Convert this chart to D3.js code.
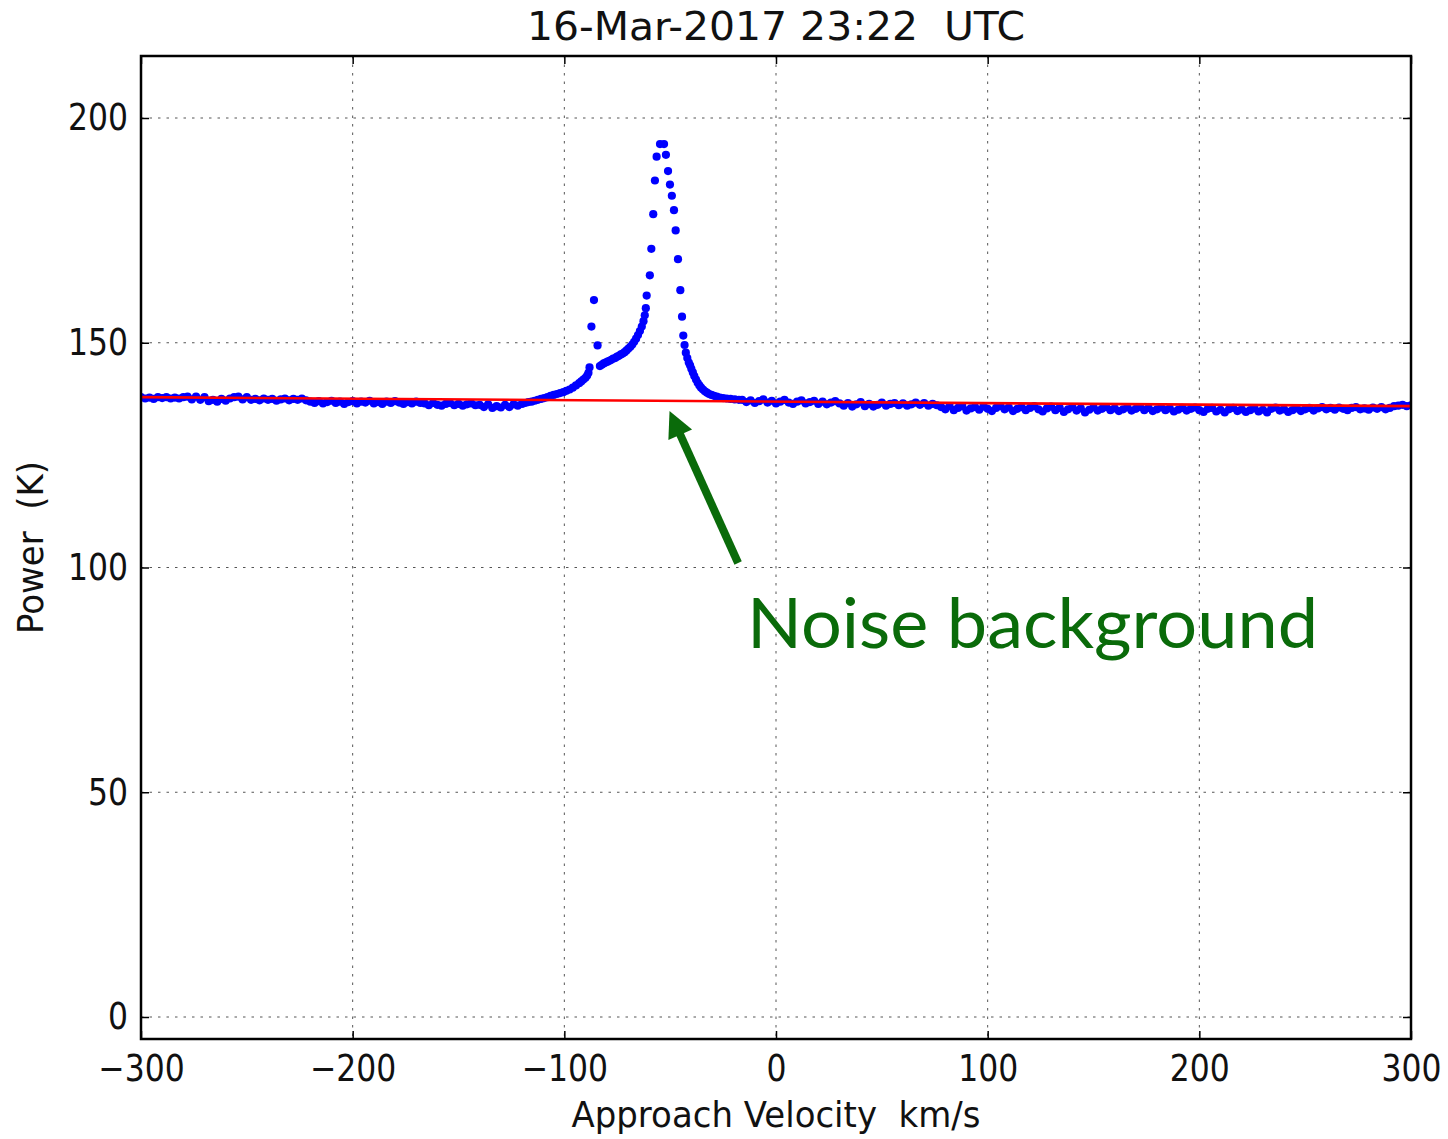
<!DOCTYPE html>
<html>
<head>
<meta charset="utf-8">
<script src="https://cdn.jsdelivr.net/npm/d3@7"></script>
<style>
  html, body { margin: 0; padding: 0; background: #ffffff; }
  svg { display: block; }
  text { white-space: pre; }
</style>
</head>
<body>
<svg id="chart" width="1448" height="1139"></svg>
<script>
// ---------------- DATA ----------------
const titleText = "16-Mar-2017 23:22  UTC";
const xLabelText = "Approach Velocity  km/s";
const yLabelText = "Power  (K)";
const xTickValues = [-300, -200, -100, 0, 100, 200, 300];
const yTickValues = [0, 50, 100, 150, 200];

// Measured spectrum: [velocity km/s, power K]
const baselineLeft = [
  [-300,137.9],[-298,137.6],[-296,137.8],[-294,137.5],[-292,137.9],[-290,137.7],[-288,137.9],[-286,137.6],[-284,137.8],[-282,137.6],
  [-280,137.9],[-278,138.0],[-276,137.4],[-274,138.0],[-272,137.3],[-270,137.9],[-268,137.0],[-266,137.3],[-264,136.9],[-262,137.5],
  [-260,137.1],[-258,137.6],[-256,137.9],[-254,138.0],[-252,137.4],[-250,137.9],[-248,137.3],
  [-246,137.5],[-244,137.2],[-242,137.6],[-240,137.3],[-238,137.5],[-236,137.1],[-234,137.4],[-232,137.6],[-230,137.2],[-228,137.5],
  [-226,137.3],[-224,137.6],[-222,137.2],
  [-220,136.9],[-218,136.6],[-216,137.0],[-214,136.5],[-212,136.8],[-210,137.1],[-208,136.6],[-206,136.9],[-204,136.4],[-202,136.8],
  [-200,137.0],[-198,136.5],[-196,136.9],[-194,136.7],[-192,137.1],[-190,136.5],[-188,136.8],[-186,136.4],[-184,136.9],[-182,136.6],
  [-180,137.0],[-178,136.7],[-176,136.4],[-174,136.8],[-172,136.5],[-170,136.9],[-168,136.6],
  [-166,136.5],[-164,136.1],[-162,136.6],[-160,136.2],[-158,136.0],[-156,136.4],[-154,136.6],[-152,136.1],[-150,136.4],[-148,136.0],
  [-146,136.3],[-144,136.5],[-142,136.1],
  [-140,136.2],[-138,135.7],[-136,136.3],[-134,135.5],[-132,135.9],[-130,135.6],[-128,136.2],[-126,135.7],[-124,136.3],[-122,136.0]
];

const lineRegion = [
  [-120,136.4],[-118.5,136.6],[-117,136.8],[-115.5,136.9],[-114,137.1],[-112.5,137.3],[-111,137.5],[-109.5,137.7],[-108,137.9],
  [-106.5,138.2],[-105,138.4],[-103.5,138.6],[-102,138.8],[-100.5,139.0],[-99,139.3],[-97.5,139.6],[-96,140.0],[-94.5,140.5],
  [-93,141.0],[-92,141.4],[-91,141.8],[-90,142.2],[-89.2,142.7],[-88.6,143.3],[-88.1,144.5],
  [-87.2,153.6],[-86.0,159.5],[-84.3,149.4],
  [-83.2,144.8],[-82.3,145.1],[-81.4,145.4],[-80.5,145.6],[-79.6,145.8],[-78.7,146.0],[-77.8,146.2],[-76.9,146.5],[-76.0,146.6],
  [-75.1,146.9],[-74.2,147.1],[-73.3,147.4],[-72.4,147.6],[-71.5,147.9],[-70.6,148.3],[-69.7,148.7],[-68.8,149.1],[-67.9,149.6],
  [-67.0,150.2],[-66.1,150.9],[-65.2,151.7],[-64.3,152.6],[-63.4,153.6],[-62.6,154.8],[-62.0,156.1],[-61.5,157.7],[-61.1,160.5],
  [-59.6,165.0],[-58.9,170.9],[-58.0,178.6],[-57.2,186.1],[-56.4,191.4],[-54.8,194.2],[-52.9,194.2],[-52.0,191.8],[-51.0,188.2],
  [-50.1,185.2],[-49.2,182.7],[-48.2,179.5],[-47.4,175.0],[-46.3,168.6],[-45.2,161.7],[-44.4,155.8],[-43.8,151.6],[-43.2,149.5],
  [-42.6,147.8],[-41.9,146.6],[-41.2,145.6],[-40.6,145.0],[-40.0,144.2],[-39.3,143.4],[-38.6,142.6],[-37.8,141.8],[-37.0,141.1],
  [-36.2,140.5],[-35.4,140.0],[-34.5,139.6],[-33.6,139.2],[-32.6,138.9],[-31.6,138.6],[-30.5,138.4],[-29.3,138.2],[-28.0,138.0],
  [-26.5,137.8],[-25.0,137.7],[-23.3,137.6],[-21.5,137.5],[-19.5,137.4],[-17.5,137.3]
];

const baselineRight = [
  [-16,137.3],[-14,136.8],[-12,137.2],[-10,136.6],[-8,137.0],[-6,137.4],[-4,136.7],[-2,137.1],[0,136.5],[2,136.9],[4,137.3],[6,136.7],
  [8,136.4],[10,136.9],[12,137.2],[14,136.5],[16,136.8],[18,137.1],[20,136.4],[22,136.9],[24,136.3],[26,136.7],[28,137.0],[30,136.5],
  [32,136.0],[34,136.6],[36,135.8],[38,136.3],[40,136.8],[42,135.9],[44,136.4],[46,135.8],[48,136.2],[50,136.7],[52,136.0],[54,136.4],
  [56,136.6],[58,136.1],[60,136.5],[62,136.0],[64,136.3],[66,136.7],[68,136.2],[70,136.6],[72,136.0],[74,136.4],[76,136.1],
  [78,135.7],[80,135.2],[82,135.9],[84,135.0],[86,135.5],[88,135.9],[90,134.9],[92,135.4],[94,135.7],[96,135.1],[98,135.8],[100,135.3],
  [102,134.8],[104,135.5],[106,135.9],[108,135.2],[110,135.6],[112,134.8],[114,135.3],[116,135.7],[118,135.0],[120,135.5],[122,135.9],
  [124,135.2],[126,134.7],[128,135.4],
  [130,135.8],[132,135.0],[134,135.5],[136,134.6],[138,135.2],[140,135.7],[142,134.9],[144,135.4],[146,134.5],[148,135.1],
  [150,135.6],[152,134.9],[154,135.3],[156,135.7],[158,135.0],[160,135.4],[162,134.8],[164,135.2],[166,135.6],[168,134.9],[170,135.3],
  [172,135.7],[174,135.0],[176,135.5],[178,134.8],[180,135.2],[182,135.6],[184,135.0],[186,135.4],[188,134.7],[190,135.1],[192,135.5],
  [194,134.9],[196,135.3],[198,135.6],
  [200,135.0],[202,134.6],[204,135.3],[206,135.5],[208,134.7],[210,135.1],[212,134.5],[214,135.2],[216,135.5],[218,134.8],[220,135.2],
  [222,134.6],[224,135.0],[226,135.4],[228,134.7],[230,135.1],[232,134.5],[234,135.3],[236,135.6],[238,134.9],[240,135.2],[242,134.6],
  [244,135.0],[246,135.4],[248,134.8],[250,135.2],[252,135.5],[254,134.9],
  [256,135.4],[258,135.7],[260,135.2],[262,135.5],[264,135.1],[266,135.6],[268,135.3],[270,135.0],[272,135.5],[274,135.7],[276,135.2],
  [278,135.4],[280,135.1],[282,135.6],[284,135.3],[286,135.7],[288,135.2],[290,135.5],
  [292,135.9],[294,136.0],[296,136.2],[298,135.9],[300,136.1]
];

// Fitted noise background (red line): [velocity, power]
const backgroundFit = [[-300,137.9],[300,135.9]];

// Annotation (data coordinates)
const annotationText = "Noise background";
const arrowTail = [-17.9, 101.0];
const arrowTip = [-50.3, 134.8];
const annotationAnchor = [-13.7, 82.1];

// ---------------- LAYOUT ----------------
const plotLeft = 141, plotRight = 1411, plotTop = 56, plotBottom = 1039;
const svg = d3.select("#chart");
svg.append("rect").attr("width",1448).attr("height",1139).attr("fill","#ffffff");

const x = d3.scaleLinear().domain([-300, 300]).range([plotLeft, plotRight]);
const y = d3.scaleLinear().domain([0, 200]).range([1017, 118]);

const FONT = "'DejaVu Sans', sans-serif";
const SQUEEZE = 0.85;

// Grid
const grid = svg.append("g");
grid.selectAll("line.gx").data(xTickValues.slice(1, -1)).enter().append("line")
  .attr("x1", d => x(d)).attr("x2", d => x(d))
  .attr("y1", plotTop).attr("y2", plotBottom)
  .attr("stroke", "#555").attr("stroke-width", 1).attr("stroke-dasharray", "2.5,6");
grid.selectAll("line.gy").data(yTickValues).enter().append("line")
  .attr("y1", d => y(d)).attr("y2", d => y(d))
  .attr("x1", plotLeft).attr("x2", plotRight)
  .attr("stroke", "#555").attr("stroke-width", 1).attr("stroke-dasharray", "2.5,6");

// Data points
const allPoints = baselineLeft.concat(lineRegion, baselineRight);
svg.append("clipPath").attr("id","plotclip").append("rect")
  .attr("x", plotLeft).attr("y", plotTop).attr("width", plotRight-plotLeft).attr("height", plotBottom-plotTop);
svg.append("g").attr("clip-path","url(#plotclip)")
  .selectAll("circle").data(allPoints).enter().append("circle")
  .attr("cx", d => x(d[0])).attr("cy", d => y(d[1])).attr("r", 4.1)
  .attr("fill", "#0000ff");

// Red fit line
svg.append("path").datum(backgroundFit)
  .attr("d", d3.line().x(d => x(d[0])).y(d => y(d[1])))
  .attr("fill","none").attr("stroke","#ff0000").attr("stroke-width",2.6);

// Axes (ticks inward on all four sides)
const gB = svg.append("g").attr("transform",`translate(0,${plotBottom})`)
  .call(d3.axisBottom(x).tickValues(xTickValues).tickSize(-8).tickPadding(16).tickFormat(d3.format("d")));
const gL = svg.append("g").attr("transform",`translate(${plotLeft},0)`)
  .call(d3.axisLeft(y).tickValues(yTickValues).tickSize(-8).tickPadding(13).tickFormat(d3.format("d")));
const gT = svg.append("g").attr("transform",`translate(0,${plotTop})`)
  .call(d3.axisTop(x).tickValues(xTickValues).tickSize(-8).tickFormat(""));
const gR = svg.append("g").attr("transform",`translate(${plotRight},0)`)
  .call(d3.axisRight(y).tickValues(yTickValues).tickSize(-8).tickFormat(""));
[gB, gL, gT, gR].forEach(g => {
  g.select(".domain").remove();
  g.selectAll(".tick line").attr("stroke","#000").attr("stroke-width",1.5);
  g.selectAll("text").attr("font-family", FONT).attr("font-size", 37).attr("fill","#111");
});
// condensed look of tick labels (horizontal squeeze)
gB.selectAll("text").attr("transform", `scale(${SQUEEZE},1)`);
gL.selectAll("text").each(function(){
  const sel = d3.select(this);
  const xv = +sel.attr("x");
  sel.attr("x", xv / SQUEEZE).attr("transform", `scale(${SQUEEZE},1)`);
});

// Frame
svg.append("rect").attr("x",plotLeft).attr("y",plotTop)
  .attr("width",plotRight-plotLeft).attr("height",plotBottom-plotTop)
  .attr("fill","none").attr("stroke","#000").attr("stroke-width",2.5);

// Title and axis labels
svg.append("text").attr("x", (plotLeft+plotRight)/2).attr("y", 40)
  .attr("text-anchor","middle").attr("font-family",FONT).attr("font-size",39).attr("fill","#111")
  .attr("textLength", 498).attr("lengthAdjust","spacingAndGlyphs").text(titleText);
svg.append("text").attr("x", (plotLeft+plotRight)/2).attr("y", 1127)
  .attr("text-anchor","middle").attr("font-family",FONT).attr("font-size",36).attr("fill","#111")
  .attr("textLength", 409).attr("lengthAdjust","spacingAndGlyphs").text(xLabelText);
svg.append("text").attr("transform", `translate(43,${(plotTop+plotBottom)/2}) rotate(-90)`)
  .attr("text-anchor","middle").attr("font-family",FONT).attr("font-size",36).attr("fill","#111")
  .attr("textLength", 173).attr("lengthAdjust","spacingAndGlyphs").text(yLabelText);

// Annotation arrow
const green = "#0a6b0a";
const tx = x(arrowTip[0]), ty = y(arrowTip[1]);
const sx = x(arrowTail[0]), sy = y(arrowTail[1]);
const len = Math.hypot(tx - sx, ty - sy);
const ux = (tx - sx)/len, uy = (ty - sy)/len;
const headLen = 26, headHalf = 13, shaftW = 8;
const bx = tx - ux*headLen, by = ty - uy*headLen;
svg.append("line").attr("x1", sx).attr("y1", sy).attr("x2", bx + ux*2).attr("y2", by + uy*2)
  .attr("stroke", green).attr("stroke-width", shaftW);
svg.append("polygon")
  .attr("points", [[tx,ty],[bx - uy*headHalf, by + ux*headHalf],[bx + uy*headHalf, by - ux*headHalf]].map(p => p.join(",")).join(" "))
  .attr("fill", green);
svg.append("text").attr("x", x(annotationAnchor[0])).attr("y", y(annotationAnchor[1]))
  .attr("font-family","Lato, 'Open Sans', sans-serif").attr("font-size",70).attr("fill", green)
  .attr("textLength", 571).attr("lengthAdjust","spacingAndGlyphs").text(annotationText);
</script>
</body>
</html>
